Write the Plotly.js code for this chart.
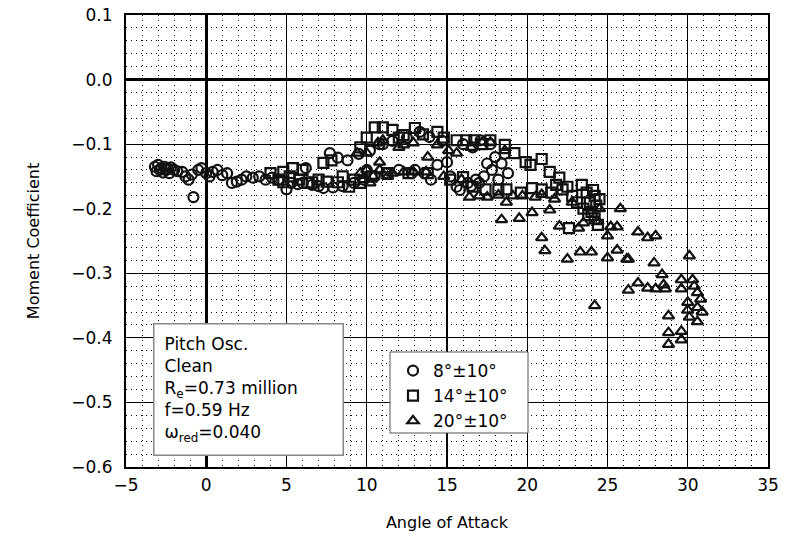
<!DOCTYPE html>
<html>
<head>
<meta charset="utf-8">
<script src="https://cdn.plot.ly/plotly-3.0.1.min.js"></script>
<style>html,body{margin:0;padding:0;background:#fff;}#chart{width:791px;height:533px;}</style>
</head>
<body>
<div id="chart"></div>
<script>
// 8°±10° (circles)
const c8x = [-3.2,-3.1,-3.0,-2.9,-2.8,-2.7,-2.6,-2.5,-2.4,-2.3,-2.2,-2.0,-1.8,-1.5,-1.3,-1.1,-0.9,-0.8,-0.5,-0.3,0.0,0.2,0.4,0.7,1.0,1.3,1.6,1.9,2.2,2.5,2.9,3.3,3.7,4.1,4.5,5.0,5.3,5.7,6.0,6.2,6.6,7.0,7.3,7.7,7.9,8.2,8.5,8.8,9.2,9.5,9.8,10.2,10.5,10.8,11.2,11.6,12.0,12.5,13.0,13.3,13.6,13.9,14.4,14.7,15.0,15.2,15.6,15.8,16.0,16.3,16.6,16.8,17.1,17.3,17.5,17.7,17.8,18.0,18.2,18.4,18.6,18.8,17.0,16.5,14.0,12.8,11.0,10.0];
const c8y = [-0.135,-0.142,-0.132,-0.140,-0.137,-0.144,-0.135,-0.140,-0.138,-0.145,-0.136,-0.140,-0.142,-0.143,-0.150,-0.155,-0.147,-0.182,-0.140,-0.137,-0.145,-0.150,-0.143,-0.140,-0.148,-0.145,-0.160,-0.158,-0.155,-0.150,-0.152,-0.150,-0.155,-0.152,-0.155,-0.170,-0.160,-0.162,-0.160,-0.137,-0.163,-0.165,-0.168,-0.114,-0.167,-0.121,-0.165,-0.125,-0.160,-0.115,-0.155,-0.110,-0.150,-0.100,-0.145,-0.095,-0.140,-0.090,-0.140,-0.081,-0.145,-0.089,-0.132,-0.095,-0.128,-0.150,-0.166,-0.171,-0.100,-0.160,-0.105,-0.155,-0.094,-0.150,-0.130,-0.100,-0.140,-0.120,-0.155,-0.130,-0.115,-0.145,-0.160,-0.165,-0.155,-0.145,-0.100,-0.140];
// 14°±10° (squares)
const s14x = [4.0,4.5,4.8,4.8,5.2,5.4,5.8,6.0,6.3,6.6,7.0,7.3,7.5,7.8,8.2,8.5,8.9,9.2,9.6,9.6,10.0,10.3,10.5,11.0,11.3,11.6,12.0,12.3,12.6,13.0,13.5,13.8,14.4,14.8,15.2,15.6,16.0,16.2,16.6,16.7,17.2,17.4,17.7,18.2,18.6,18.7,19.2,19.6,19.9,20.2,20.3,20.9,20.9,21.4,21.5,22.0,22.2,22.5,22.6,22.8,23.1,23.4,23.5,23.7,23.9,24.0,24.1,24.2,24.3,24.4,24.5,24.2,23.8,21.8];
const s14y = [-0.145,-0.155,-0.143,-0.159,-0.150,-0.137,-0.155,-0.140,-0.160,-0.159,-0.155,-0.129,-0.158,-0.125,-0.159,-0.150,-0.166,-0.155,-0.105,-0.160,-0.090,-0.150,-0.074,-0.074,-0.145,-0.078,-0.090,-0.086,-0.145,-0.075,-0.085,-0.145,-0.081,-0.090,-0.155,-0.094,-0.151,-0.094,-0.166,-0.094,-0.100,-0.170,-0.094,-0.170,-0.101,-0.170,-0.114,-0.175,-0.128,-0.132,-0.168,-0.123,-0.170,-0.143,-0.175,-0.152,-0.170,-0.166,-0.230,-0.180,-0.190,-0.163,-0.200,-0.175,-0.190,-0.205,-0.171,-0.215,-0.195,-0.225,-0.185,-0.180,-0.210,-0.163];
// 20°±10° (triangles)
const t20x = [9.4,9.6,9.8,10.0,10.0,10.2,10.4,10.7,10.8,10.8,11.0,11.3,11.6,12.0,12.3,12.3,12.9,12.9,13.7,13.8,14.4,14.8,15.1,15.6,15.9,16.4,16.5,17.0,17.2,17.5,17.7,18.2,18.4,18.6,18.7,19.1,19.5,19.7,20.3,20.5,20.9,20.9,21.1,21.4,21.7,22.0,22.5,22.8,23.2,23.3,23.5,24.0,24.2,24.4,24.5,25.0,25.0,25.2,25.6,25.6,25.8,26.2,26.3,26.3,26.9,26.9,27.5,27.5,27.9,28.0,28.0,28.4,28.5,28.6,28.8,28.8,28.8,29.6,29.6,29.6,29.6,30.0,30.0,30.1,30.1,30.4,30.6,30.6,30.6,30.8,30.3,30.9];
const t20y = [-0.114,-0.145,-0.155,-0.114,-0.140,-0.160,-0.150,-0.098,-0.128,-0.140,-0.094,-0.150,-0.145,-0.105,-0.101,-0.143,-0.098,-0.143,-0.143,-0.120,-0.101,-0.150,-0.110,-0.114,-0.155,-0.182,-0.105,-0.180,-0.097,-0.182,-0.097,-0.179,-0.217,-0.110,-0.190,-0.180,-0.215,-0.180,-0.206,-0.182,-0.245,-0.178,-0.265,-0.202,-0.185,-0.227,-0.278,-0.190,-0.230,-0.267,-0.222,-0.267,-0.350,-0.220,-0.200,-0.242,-0.276,-0.228,-0.228,-0.264,-0.200,-0.278,-0.278,-0.326,-0.236,-0.315,-0.245,-0.323,-0.284,-0.242,-0.324,-0.302,-0.318,-0.324,-0.366,-0.392,-0.410,-0.310,-0.324,-0.390,-0.403,-0.345,-0.357,-0.273,-0.368,-0.320,-0.330,-0.353,-0.375,-0.340,-0.310,-0.360];
const seriesNames = ['8°±10°','14°±10°','20°±10°'];
const xTicks = [-5,0,5,10,15,20,25,30,35];
const yTicks = [0.1,0.0,-0.1,-0.2,-0.3,-0.4,-0.5,-0.6];

const FONT = 'DejaVu Sans, sans-serif';
const mk = (sym) => ({symbol: sym, size: 10, color: '#111', line: {color: '#111', width: 2.2}});
const traces = [
  {x: c8x, y: c8y, name: seriesNames[0], type: 'scatter', mode: 'markers', marker: mk('circle-open')},
  {x: s14x, y: s14y, name: seriesNames[1], type: 'scatter', mode: 'markers', marker: mk('square-open')},
  {x: t20x, y: t20y, name: seriesNames[2], type: 'scatter', mode: 'markers', marker: mk('triangle-up-open')}
];
const axisCommon = {
  showline: true, linecolor: '#000', linewidth: 2, mirror: true,
  showgrid: true, gridcolor: '#000', gridwidth: 1.2,
  zeroline: true, zerolinecolor: '#000', zerolinewidth: 3,
  ticks: '', tickfont: {family: FONT, size: 17, color: '#000'},
  fixedrange: true
};
// plot area in px: left 126, right 768, top 15, bottom 467
const px = (p) => (p - 126) / 642;
const py = (p) => (467 - p) / 452;
const layout = {
  width: 791, height: 533,
  margin: {l: 126, r: 23, t: 15, b: 66},
  paper_bgcolor: '#fff', plot_bgcolor: '#fff',
  font: {family: FONT, color: '#000'},
  showlegend: true,
  legend: {
    x: px(393), y: py(353), xanchor: 'left', yanchor: 'top',
    bgcolor: 'rgba(0,0,0,0)', borderwidth: 0,
    font: {family: FONT, size: 17, color: '#000'}, tracegroupgap: 0,
    itemwidth: 30
  },
  shapes: [{
    type: 'rect', xref: 'paper', yref: 'paper', layer: 'above',
    x0: px(390), x1: px(528), y0: py(433), y1: py(352),
    fillcolor: '#fff', line: {color: '#555', width: 1}
  }],
  xaxis: Object.assign({}, axisCommon, {
    range: [-5, 35], tickvals: xTicks, ticklabelstandoff: 2,
    minor: {dtick: 1, showgrid: true, gridcolor: '#000', griddash: '1px,4px', gridwidth: 1},
    title: {text: 'Angle of Attack', font: {family: FONT, size: 16, color: '#000'}, standoff: 22}
  }),
  yaxis: Object.assign({}, axisCommon, {
    range: [-0.6, 0.1], tickvals: yTicks, tickformat: '.1f', ticklabelstandoff: 8,
    minor: {dtick: 0.02, showgrid: true, gridcolor: '#000', griddash: '1px,4px', gridwidth: 1},
    title: {text: 'Moment Coefficient', font: {family: FONT, size: 16, color: '#000'}, standoff: 28}
  }),
  annotations: [{
    xref: 'paper', yref: 'paper', x: px(153), y: py(323), xanchor: 'left', yanchor: 'top',
    align: 'left', valign: 'middle', showarrow: false, width: 168, height: 110,
    text: 'Pitch Osc.<br>Clean<br>R<sub>e</sub>=0.73 million<br>f=0.59 Hz<br>ω<sub>red</sub>=0.040',
    font: {family: FONT, size: 17, color: '#000'},
    bgcolor: '#fff', bordercolor: '#888', borderwidth: 1.5, borderpad: 10
  }]
};
Plotly.newPlot('chart', traces, layout, {displayModeBar: false, staticPlot: true});
</script>
</body>
</html>
